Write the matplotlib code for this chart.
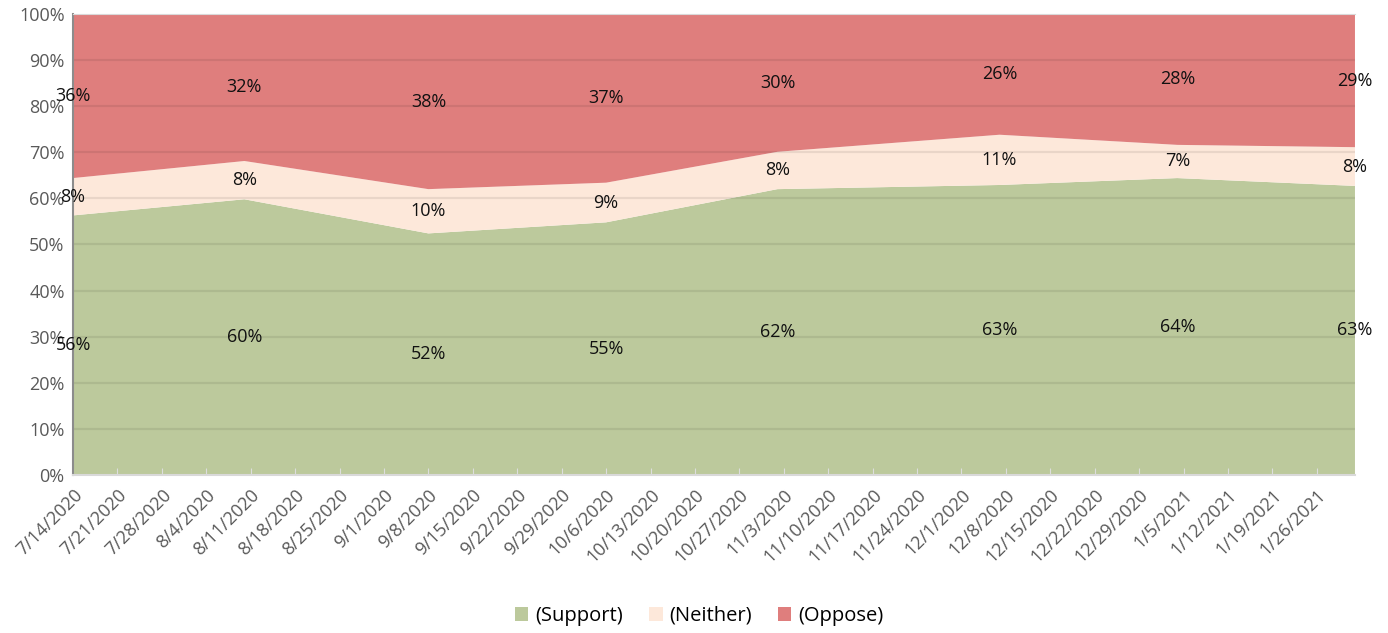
import datetime as dt

import matplotlib
matplotlib.use("Agg")
import matplotlib.pyplot as plt
import matplotlib.dates as mdates
from matplotlib.patches import Patch

plt.rcParams['font.family'] = ['Open Sans', 'DejaVu Sans']

dates = ["2020-07-14", "2020-08-10", "2020-09-08", "2020-10-06",
         "2020-11-02", "2020-12-07", "2021-01-04", "2021-02-01"]
support = [56.3, 59.8, 52.4, 54.8, 62.0, 62.9, 64.4, 62.7]
neither = [8.1, 8.3, 9.6, 8.6, 8.1, 10.9, 7.2, 8.4]
oppose = [35.6, 31.9, 38.0, 36.6, 29.9, 26.2, 28.4, 28.9]
labels = ["(Support)", "(Neither)", "(Oppose)"]
colors = ["#bcc99c", "#fde8da", "#df7e7d"]

tick_start = dt.date(2020, 7, 14)
tick_count = 29  # weekly ticks through 1/26/2021

x = [dt.datetime.strptime(d, "%Y-%m-%d") for d in dates]
xn = mdates.date2num(x)

fig, ax = plt.subplots(figsize=(13.88, 6.33), dpi=100)
fig.subplots_adjust(left=0.0526, right=0.9762, top=0.978, bottom=0.2496)

ax.stackplot(xn, support, neither, oppose, colors=colors, zorder=1)
ax.set_xlim(xn[0], xn[-1])
ax.set_ylim(0, 100)

# gridlines drawn over the areas, slightly darker
for v in range(10, 100, 10):
    ax.axhline(v, color="black", alpha=0.08, lw=1.6, zorder=2)

# data labels at middle of each band
for i in range(len(xn)):
    s, n, o = support[i], neither[i], oppose[i]
    for val, mid in [(s, s / 2), (n, s + n / 2), (o, s + n + o / 2)]:
        ax.text(xn[i], mid, f"{round(val)}%", ha="center", va="center",
                fontsize=13, color="#111111", zorder=3)

ticks = [tick_start + dt.timedelta(weeks=k) for k in range(tick_count)]
ax.set_xticks(mdates.date2num(ticks))
ax.set_xticklabels([f"{d.month}/{d.day}/{d.year}" for d in ticks],
                   rotation=45, ha="right", rotation_mode="anchor")
ax.tick_params(axis="x", direction="in", length=5, color="#dddddd",
               labelcolor="#595959", labelsize=13, pad=8)
ax.set_yticks(range(0, 101, 10))
ax.set_yticklabels([f"{v}%" for v in range(0, 101, 10)])
ax.tick_params(axis="y", length=0, labelcolor="#595959", labelsize=13, pad=6)

ax.spines["left"].set_color("#8c8c8c")
ax.spines["left"].set_linewidth(1.5)
ax.spines["bottom"].set_color("#d9d9d9")
ax.spines["bottom"].set_linewidth(1.5)
ax.spines["top"].set_color("#d9d9d9")
ax.spines["right"].set_visible(False)

handles = [Patch(facecolor=c, edgecolor="none") for c in colors]
fig.legend(handles, labels, loc="center", bbox_to_anchor=(0.504, 0.027), ncol=3,
           frameon=False, fontsize=14.5, handlelength=0.65, handleheight=0.65,
           handletextpad=0.35, columnspacing=1.3)

fig.savefig("out.png", dpi=100)
